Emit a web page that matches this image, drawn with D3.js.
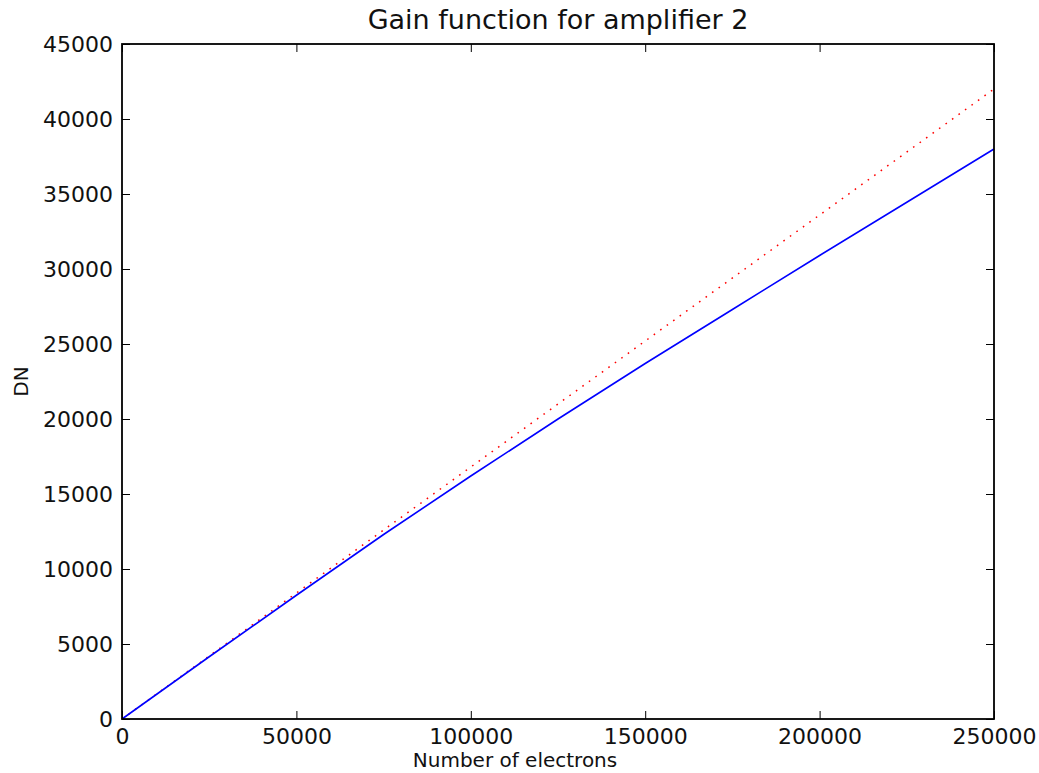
<!DOCTYPE html>
<html>
<head>
<meta charset="utf-8">
<script src="https://cdn.jsdelivr.net/npm/d3@7"></script>
<style>
  body { margin: 0; background: #fff; }
  svg { display: block; }
  text { font-family: "DejaVu Sans", sans-serif; fill: #111; }
</style>
</head>
<body>
<svg id="chart"></svg>
<script>
// number of electrons sampled along the fit
const electrons = [0, 25000, 50000, 75000, 100000, 125000, 150000, 175000, 200000, 225000, 250000];
// measured gain curve (blue, solid)
const dnMeasured = [0, 4150, 8250, 12300, 16200, 20000, 23700, 27300, 30900, 34450, 38000];
// ideal linear response (red, dotted)
const electronsLinear = [0, 250000];
const dnLinear = [0, 42000];

const xTicks = [0, 50000, 100000, 150000, 200000, 250000];
const yTicks = [0, 5000, 10000, 15000, 20000, 25000, 30000, 35000, 40000, 45000];

const W = 1039, H = 773;
const margin = { top: 44, right: 45, bottom: 54, left: 122 };
const width = W - margin.left - margin.right;
const height = H - margin.top - margin.bottom;

const svg = d3.select('#chart').attr('width', W).attr('height', H);
const chart = svg.append('g').attr('transform', `translate(${margin.left},${margin.top})`);

const x = d3.scaleLinear().domain([0, 250000]).range([0, width]);
const y = d3.scaleLinear().domain([0, 45000]).range([height, 0]);

// inward ticks on all four sides, matplotlib style
chart.append('g')
  .attr('transform', `translate(0,${height})`)
  .call(d3.axisBottom(x).tickValues(xTicks).tickSize(-8).tickPadding(9).tickFormat(d3.format('d')))
  .call(g => g.select('.domain').remove());
chart.append('g')
  .call(d3.axisLeft(y).tickValues(yTicks).tickSize(-8).tickPadding(9).tickFormat(d3.format('d')))
  .call(g => g.select('.domain').remove());
chart.append('g')
  .call(d3.axisTop(x).tickValues(xTicks).tickSize(-8).tickFormat(''))
  .call(g => g.select('.domain').remove());
chart.append('g')
  .attr('transform', `translate(${width},0)`)
  .call(d3.axisRight(y).tickValues(yTicks).tickSize(-8).tickFormat(''))
  .call(g => g.select('.domain').remove());

chart.selectAll('.tick line').attr('stroke', '#000').attr('stroke-width', 1);
chart.selectAll('.tick text')
  .attr('fill', '#111')
  .style('font-family', '"DejaVu Sans", sans-serif')
  .style('font-size', '22px');

const line = d3.line().x(d => x(d[0])).y(d => y(d[1]));

chart.append('path')
  .datum(d3.zip(electronsLinear, dnLinear))
  .attr('d', line)
  .attr('fill', 'none')
  .attr('stroke', '#ff0000')
  .attr('stroke-width', 1.5)
  .attr('stroke-dasharray', '1.6,6.4');

chart.append('path')
  .datum(d3.zip(electrons, dnMeasured))
  .attr('d', line)
  .attr('fill', 'none')
  .attr('stroke', '#0000ff')
  .attr('stroke-width', 1.6);

chart.append('rect')
  .attr('width', width)
  .attr('height', height)
  .attr('fill', 'none')
  .attr('stroke', '#000')
  .attr('stroke-width', 1.8);

svg.append('text')
  .attr('x', margin.left + width / 2)
  .attr('y', 29)
  .attr('text-anchor', 'middle')
  .style('font-size', '27px')
  .text('Gain function for amplifier 2');

svg.append('text')
  .attr('x', 515)
  .attr('y', 767)
  .attr('text-anchor', 'middle')
  .style('font-size', '20px')
  .text('Number of electrons');

svg.append('text')
  .attr('transform', `translate(28,${margin.top + height / 2}) rotate(-90)`)
  .attr('text-anchor', 'middle')
  .style('font-size', '20px')
  .text('DN');
</script>
</body>
</html>
